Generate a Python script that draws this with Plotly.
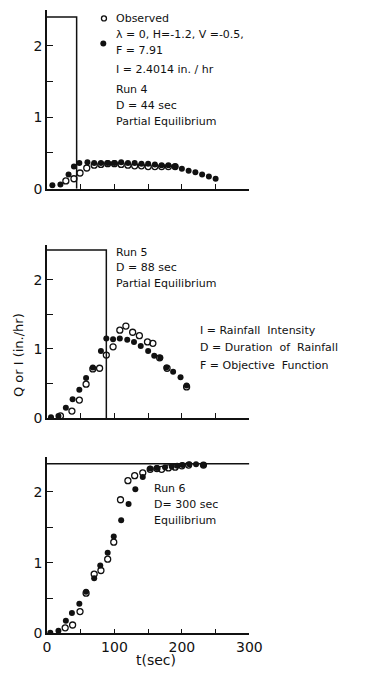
import plotly.graph_objects as go

# ---------------- data ----------------
# Run 4 (D = 44 sec, I = 2.4014 in./hr)
t4_obs = [28, 40, 49, 59, 70, 80, 90, 100, 110, 120, 130, 140, 150, 160, 170, 180, 190]
q4_obs = [0.11, 0.14, 0.22, 0.29, 0.33, 0.34, 0.35, 0.35, 0.34, 0.33, 0.32, 0.32, 0.31, 0.31, 0.31, 0.31, 0.31]
t4_sim = [8, 20, 32, 40, 48, 60, 70, 80, 90, 100, 110, 120, 130, 140, 150, 160, 170, 180, 190, 200, 210, 220, 230, 240, 250]
q4_sim = [0.05, 0.06, 0.20, 0.31, 0.36, 0.37, 0.36, 0.36, 0.36, 0.36, 0.37, 0.36, 0.36, 0.35, 0.35,
          0.34, 0.33, 0.33, 0.31, 0.28, 0.25, 0.23, 0.20, 0.17, 0.14]

# Run 5 (D = 88 sec)
t5_obs = [20, 37, 48, 58, 68, 78, 88, 98, 108, 117, 127, 137, 149, 157, 167, 178, 207]
q5_obs = [0.03, 0.10, 0.26, 0.49, 0.71, 0.72, 0.91, 1.03, 1.27, 1.33, 1.24, 1.19, 1.10, 1.08, 0.87, 0.72, 0.45]
t5_sim = [6, 17, 28, 38, 48, 58, 68, 80, 88, 98, 108, 119, 129, 139, 150, 159, 168, 177, 187, 198, 207]
q5_sim = [0.01, 0.03, 0.15, 0.27, 0.41, 0.58, 0.73, 0.97, 1.15, 1.14, 1.15, 1.13, 1.10, 1.04, 0.97,
          0.90, 0.87, 0.73, 0.67, 0.59, 0.47]

# Run 6 (D = 300 sec)
t6_obs = [27, 38, 49, 58, 70, 80, 90, 99, 109, 120, 130, 142, 153, 163, 170, 180, 190, 200, 210, 232]
q6_obs = [0.08, 0.12, 0.31, 0.57, 0.84, 0.89, 1.05, 1.29, 1.89, 2.16, 2.23, 2.27, 2.32, 2.33, 2.32,
          2.34, 2.35, 2.37, 2.38, 2.38]
t6_sim = [5, 17, 28, 37, 48, 58, 70, 79, 90, 99, 110, 121, 131, 142, 153, 163, 175, 185, 193, 201, 211, 221, 232]
q6_sim = [0.01, 0.04, 0.18, 0.29, 0.42, 0.59, 0.78, 0.96, 1.14, 1.37, 1.60, 1.83, 2.04, 2.21, 2.33,
          2.34, 2.35, 2.36, 2.37, 2.38, 2.39, 2.39, 2.38]

# rainfall intensity (in./hr) and duration (sec) of each run
rain_intensity = [2.4014, 2.43, 2.40]
rain_duration = [44, 88, 300]

y_tickvals = [0, 0.5, 1, 1.5, 2, 2.5]
y_ticktext = ["0", "", "1", "", "2", ""]
x_tickvals = [0, 50, 100, 150, 200, 250, 300]
x_ticktext = ["0", "", "100", "", "200", "", "300"]

# ---------------- layout helpers ----------------
W, H = 375, 682
FONT = "DejaVu Sans"
INK = "#111111"


def px(x):
    return x / W


def py(y):
    return 1 - y / H


x_dom = [px(45), px(257)]
panels = [  # (top px, bottom px)
    (10, 191),
    (248, 423),
    (462, 641),
]

fig = go.Figure()

obs_data = [(t4_obs, q4_obs), (t5_obs, q5_obs), (t6_obs, q6_obs)]
sim_data = [(t4_sim, q4_sim), (t5_sim, q5_sim), (t6_sim, q6_sim)]

for i in range(3):
    xa = "x" if i == 0 else f"x{i + 1}"
    ya = "y" if i == 0 else f"y{i + 1}"
    I, D = rain_intensity[i], rain_duration[i]
    # rainfall hyetograph
    if D < 300:
        rx, ry = [0, D, D], [I, I, 0]
    else:
        rx, ry = [0, D], [I, I]
    fig.add_trace(go.Scatter(x=rx, y=ry, mode="lines", xaxis=xa, yaxis=ya,
                             line=dict(color=INK, width=1.5), showlegend=False,
                             hoverinfo="skip"))
    fig.add_trace(go.Scatter(x=obs_data[i][0], y=obs_data[i][1], mode="markers",
                             xaxis=xa, yaxis=ya, showlegend=False,
                             marker=dict(symbol="circle-open", size=6, color=INK,
                                         line=dict(width=1.3, color=INK))))
    fig.add_trace(go.Scatter(x=sim_data[i][0], y=sim_data[i][1], mode="markers",
                             xaxis=xa, yaxis=ya, showlegend=False,
                             marker=dict(symbol="circle", size=6, color=INK)))

    top, bot = panels[i]
    axis_common = dict(showline=True, linecolor=INK, linewidth=1.5, showgrid=False,
                       zeroline=False, ticks="inside", tickcolor=INK, tickwidth=1.3)
    fig.layout[f"xaxis{'' if i == 0 else i + 1}"] = dict(
        **axis_common, domain=x_dom, range=[0, 300], anchor=ya.replace("y", "y"),
        tickvals=x_tickvals, ticktext=x_ticktext if i == 2 else [""] * 7,
        ticklen=5, tickfont=dict(family=FONT, size=14, color=INK))
    fig.layout[f"yaxis{'' if i == 0 else i + 1}"] = dict(
        **axis_common, domain=[py(bot), py(top)], range=[0, 2.5], anchor=xa,
        tickvals=y_tickvals, ticktext=y_ticktext, ticklen=6,
        tickfont=dict(family=FONT, size=14, color=INK))

# legend markers beside the key text of the first panel
fig.add_trace(go.Scatter(x=[84.5], y=[2.38], mode="markers", xaxis="x", yaxis="y",
                         showlegend=False, hoverinfo="skip",
                         marker=dict(symbol="circle-open", size=5, color=INK,
                                     line=dict(width=1.3, color=INK))))
fig.add_trace(go.Scatter(x=[83.5], y=[2.03], mode="markers", xaxis="x", yaxis="y",
                         showlegend=False, hoverinfo="skip",
                         marker=dict(symbol="circle", size=6, color=INK)))

texts = [
    ("Observed", 115, 19),
    ("λ = 0, H=-1.2, V =-0.5,", 115, 35),
    ("F = 7.91", 115, 51),
    ("I = 2.4014 in. / hr", 115, 70),
    ("Run 4", 115, 91),
    ("D = 44 sec", 115, 107),
    ("Partial Equilibrium", 115, 123),
    ("Run 5", 115, 255),
    ("D = 88 sec", 115, 271),
    ("Partial Equilibrium", 115, 287),
    ("I = Rainfall  Intensity", 203, 334),
    ("D = Duration  of  Rainfall", 203, 352),
    ("F = Objective  Function", 203, 370),
    ("Run 6", 155, 494),
    ("D= 300 sec", 155, 510),
    ("Equilibrium", 155, 527),
]
annotations = [dict(text=t, x=px(x), y=py(y), xref="paper", yref="paper",
                    xanchor="left", yanchor="middle", showarrow=False,
                    font=dict(family=FONT, size=11, color=INK))
               for t, x, y in texts]
annotations.append(dict(text="Q or I (in./hr)", x=px(15), y=py(359), xref="paper",
                        yref="paper", textangle=-90, showarrow=False,
                        xanchor="center", yanchor="middle",
                        font=dict(family=FONT, size=13, color=INK)))
annotations.append(dict(text="t(sec)", x=px(159), y=py(668), xref="paper", yref="paper",
                        showarrow=False, xanchor="center", yanchor="middle",
                        font=dict(family=FONT, size=14, color=INK)))

fig.update_layout(width=W, height=H, margin=dict(l=0, r=0, t=0, b=0),
                  paper_bgcolor="white", plot_bgcolor="white",
                  annotations=annotations, showlegend=False)

fig.write_html("out.html")
